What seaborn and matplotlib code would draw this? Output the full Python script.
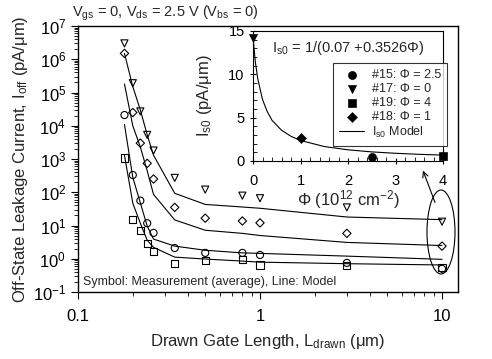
import numpy as np
import pandas as pd
import matplotlib
matplotlib.use("Agg")
import matplotlib.pyplot as plt
import seaborn as sns
from matplotlib.patches import Ellipse
from matplotlib.ticker import LogLocator, FixedLocator, FuncFormatter, MultipleLocator, NullFormatter

# ---------------- data ----------------
L_meas = [0.18, 0.2, 0.22, 0.24, 0.26, 0.34, 0.5, 0.8, 1, 3, 10]
ioff_17 = [3.0e6, 1.9e5, 2.7e4, 5.3e3, 1.8e3, 270, 120, 79, 66, 35, 13]      # triangle, Phi=0
ioff_18 = [1.5e6, 2.5e4, 3.0e3, 740, 250, 35, 16.6, 13.7, 12, 5.8, 2.4]       # diamond, Phi=1
ioff_15 = [2.1e4, 330, 56, 11.7, 6.0, 2.1, 1.5, 1.5, 1.3, 0.75, 0.5]          # circle, Phi=2.5
ioff_19 = [1.07e3, 15.5, 7.2, 2.9, 1.7, 0.73, 0.87, 0.98, 0.65, 0.62, 0.55]   # square, Phi=4

L_model = [0.18, 0.2, 0.22, 0.24, 0.26, 0.34, 0.5, 0.8, 1, 3, 10]
model_17 = [1.5e6, 1.5e5, 3.0e4, 5.3e3, 1.3e3, 93, 43, 36, 33, 18, 15]
model_18 = [1.8e5, 1.0e4, 2.3e3, 440, 86, 14.7, 7.2, 5.8, 5.0, 3.1, 2.5]
model_15 = [1.1e4, 280, 48, 9.6, 3.9, 2.4, 1.8, 1.5, 1.45, 1.2, 0.96]
model_19 = [1.3e3, 47, 11.7, 3.6, 2.2, 1.12, 0.98, 0.85, 0.79, 0.71, 0.65]

phi_pts = [2.5, 0, 4, 1]
is0_pts = [0.5, 14.2, 0.6, 2.6]
pt_labels = ["#15: \u03a6 = 2.5", "#17: \u03a6 = 0", "#19: \u03a6 = 4", "#18: \u03a6 = 1"]
phi_model = [0, 0.05, 0.1, 0.2, 0.3, 0.4, 0.6, 0.8, 1.0, 1.5, 2.0, 2.5, 3.0, 3.5, 4.0]
is0_model = [14.3, 11.4, 9.5, 7.1, 5.7, 4.7, 3.55, 2.85, 2.37, 1.67, 1.29, 1.05, 0.89, 0.77, 0.68]

x_ticks = [0.1, 1, 10]
x_ticklabels = ["0.1", "1", "10"]

# ---------------- style ----------------
sns.set_style("ticks")
plt.rcParams['font.family'] = ['Liberation Sans', 'DejaVu Sans']
plt.rcParams['mathtext.fontset'] = 'custom'
plt.rcParams['mathtext.rm'] = 'Liberation Sans'
plt.rcParams['mathtext.it'] = 'Liberation Sans:italic'
plt.rcParams['mathtext.bf'] = 'Liberation Sans:bold'
plt.rcParams['axes.edgecolor'] = 'black'
plt.rcParams['xtick.color'] = 'black'
plt.rcParams['ytick.color'] = 'black'

W, H = 492, 359
fig = plt.figure(figsize=(W / 100, H / 100), dpi=100)
fig.patch.set_facecolor('white')

def fx(px):
    return px / W

def fy(py):
    return 1 - py / H

ax = fig.add_axes([fx(78), fy(292), fx(458) - fx(78), fy(26) - fy(292)])
ax.set_xscale('log')
ax.set_yscale('log')

for yv, m in [(ioff_17, 'v'), (ioff_18, 'D'), (ioff_15, 'o'), (ioff_19, 's')]:
    sz = 18 if m == 'D' else 26
    sns.scatterplot(x=L_meas, y=yv, marker=m, ax=ax, legend=False, s=sz, facecolor='none',
                    edgecolor='black', linewidth=0.8, clip_on=False, zorder=3)
for yv in [model_17, model_18, model_15, model_19]:
    sns.lineplot(x=L_model, y=yv, ax=ax, color='black', linewidth=0.8, legend=False, zorder=2)

ax.set_xlim(0.1, 12.24)
ax.set_ylim(0.1, 1e7)
ax.xaxis.set_major_locator(FixedLocator(x_ticks))
ax.xaxis.set_major_formatter(FuncFormatter(lambda v, p: x_ticklabels[x_ticks.index(v)] if v in x_ticks else ""))
ax.xaxis.set_minor_locator(LogLocator(base=10, subs=np.arange(2, 10), numticks=20))
ax.xaxis.set_minor_formatter(NullFormatter())
ax.yaxis.set_major_locator(LogLocator(base=10, numticks=20))
ax.yaxis.set_minor_locator(LogLocator(base=10, subs=np.arange(2, 10), numticks=20))
ax.yaxis.set_minor_formatter(NullFormatter())
ax.tick_params(axis='both', which='major', labelsize=12, length=5, width=0.8, direction='out')
ax.tick_params(axis='x', which='major', pad=7)
ax.tick_params(axis='both', which='minor', length=3, width=0.6, direction='out')
for s in ax.spines.values():
    s.set_linewidth(1.0)
ax.set_xlabel("Drawn Gate Length, L$_{\\mathrm{drawn}}$ (\u03bcm)", fontsize=12, labelpad=6)
ax.set_ylabel("Off-State Leakage Current, I$_{\\mathrm{off}}$ (pA/\u03bcm)", fontsize=12, labelpad=2)

fig.text(fx(165), fy(13), "V$_{\\mathrm{gs}}$ = 0, V$_{\\mathrm{ds}}$ = 2.5 V (V$_{\\mathrm{bs}}$ = 0)",
         ha='center', va='center', fontsize=10.5)
fig.text(fx(83), fy(282), "Symbol: Measurement (average), Line: Model", ha='left', va='center', fontsize=9)

# ellipse + arrow
ell = Ellipse((fx(441), fy(232)), width=fx(28), height=fy(0) - fy(84), transform=fig.transFigure,
              fill=False, edgecolor='black', linewidth=0.8)
fig.patches.append(ell)
fig.add_artist(matplotlib.patches.FancyArrowPatch((fx(436), fy(205)), (fx(422), fy(168)),
                                                  transform=fig.transFigure, arrowstyle='->',
                                                  mutation_scale=10, color='black', linewidth=0.8))

# ---------------- inset ----------------
axi = fig.add_axes([fx(253), fy(161), fx(443) - fx(253), fy(31) - fy(161)])
axi.set_facecolor('white')
for m, px, py, lab in zip(['o', 'v', 's', 'D'], phi_pts, is0_pts, pt_labels):
    sz = 26 if m == 'D' else 34
    sns.scatterplot(x=[px], y=[py], marker=m, s=sz, color='black', edgecolor='black', ax=axi,
                    label=lab, clip_on=False, zorder=3)
sns.lineplot(x=phi_model, y=is0_model, ax=axi, color='black', linewidth=0.8, label="I$_{\\mathrm{s0}}$ Model")
axi.set_xlim(0, 4)
axi.set_ylim(0, 15)
axi.xaxis.set_major_locator(MultipleLocator(1))
axi.xaxis.set_minor_locator(MultipleLocator(0.2))
axi.yaxis.set_major_locator(MultipleLocator(5))
axi.yaxis.set_minor_locator(MultipleLocator(1))
axi.tick_params(axis='both', which='major', labelsize=10.5, length=5, width=0.8, direction='inout')
axi.tick_params(axis='both', which='minor', length=3, width=0.6, direction='in')
axi.tick_params(axis='x', which='major', pad=7)
for s in axi.spines.values():
    s.set_linewidth(0.8)
axi.set_xlabel("\u03a6 (10$^{12}$ cm$^{-2}$)", fontsize=12, labelpad=0)
axi.set_ylabel("I$_{\\mathrm{s0}}$ (pA/\u03bcm)", fontsize=12, labelpad=10)
axi.text(0.5, 0.87, "I$_{\\mathrm{s0}}$ = 1/(0.07 +0.3526\u03a6)", transform=axi.transAxes,
         ha='center', va='center', fontsize=10.5)
leg = axi.legend(loc='upper left', bbox_to_anchor=(fx(333), fy(63)), bbox_transform=fig.transFigure,
                 borderaxespad=0, fontsize=9, frameon=True, fancybox=False, edgecolor='black',
                 labelspacing=0.15, handlelength=2.0, handletextpad=0.6, borderpad=0.5)
leg.get_frame().set_linewidth(0.8)

fig.savefig("out.png", dpi=100, facecolor='white')
